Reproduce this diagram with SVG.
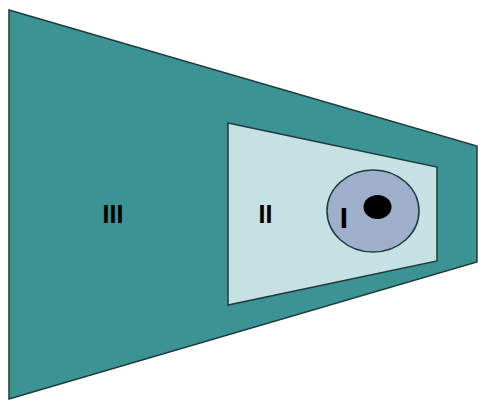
<svg xmlns="http://www.w3.org/2000/svg" width="478" height="400" viewBox="0 0 478 400">
<style>
.t{font-family:"Liberation Sans",Arial,sans-serif;font-weight:bold;font-size:25px;fill:#000;text-anchor:middle}
.s{stroke:#1e3b3c;stroke-width:1.5}
</style>
<rect width="478" height="400" fill="#fff"/>
<g id="zone3">
<polygon class="s" points="9,10 477,146 477,262 9,399" fill="#3b9394"/>
<text class="t" x="113" y="223">III</text>
</g>
<g id="zone2">
<polygon class="s" points="228,123 437,167 437,261 228,305" fill="#c6e1e3"/>
<text class="t" x="265.5" y="223">II</text>
</g>
<g id="zone1">
<ellipse class="s" cx="373" cy="211" rx="46" ry="41" fill="#9eaecb"/>
<text class="t" x="344" y="228" style="font-size:30px">I</text>
<ellipse cx="377.5" cy="207" rx="14" ry="12" fill="#000"/>
</g>
</svg>
